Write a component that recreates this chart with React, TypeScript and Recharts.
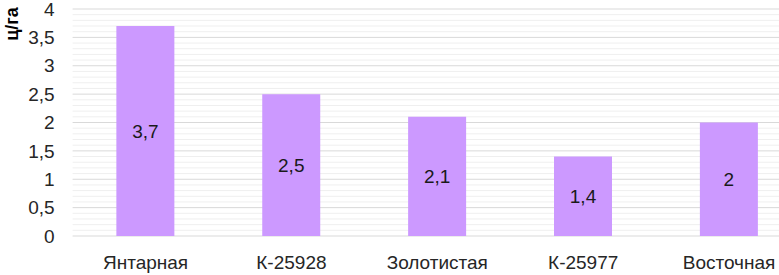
import { BarChart, Bar, XAxis, YAxis, CartesianGrid, LabelList } from "recharts";

const varieties = ["Янтарная", "К-25928", "Золотистая", "К-25977", "Восточная"];
const yieldValues = [3.7, 2.5, 2.1, 1.4, 2];
const yTicks = [0, 0.5, 1, 1.5, 2, 2.5, 3, 3.5, 4];

const data = varieties.map((name, i) => ({ name, value: yieldValues[i] }));
// minor gridlines every 0.1
const minorGrid = Array.from({ length: 41 }, (_, i) => i / 10).filter((v) => !yTicks.includes(v));

const FONT = "'Liberation Sans', Arial, sans-serif";
const fmt = (v: number) => String(v).replace(".", ",");

function AxisTitle() {
  return (
    <text
      x={12}
      y={24}
      transform="rotate(-90, 12, 24)"
      textAnchor="middle"
      dominantBaseline="central"
      fontFamily={FONT}
      fontSize={18}
      fontWeight="bold"
      fill="#000"
    >
      ц/га
    </text>
  );
}

const minorCoords = (props: any) => {
  const scale = props?.yAxis?.scale;
  if (typeof scale === "function") return minorGrid.map((v) => scale(v));
  if (scale && typeof scale.map === "function") return minorGrid.map((v) => scale.map(v));
  const top = props.offset?.top ?? 8;
  const h = props.offset?.height ?? 228;
  return minorGrid.map((v) => top + ((4 - v) / 4) * h);
};

export default function App() {
  return (
    <div style={{ position: "absolute", left: 0, top: 0, width: 779, height: 275, overflow: "hidden", background: "#fff" }}>
      <BarChart
        width={810}
        height={275}
        data={data}
        margin={{ top: 9, right: 8, left: 0, bottom: 0 }}
        barCategoryGap="30%"
        style={{ fontFamily: FONT }}
      >
        <CartesianGrid vertical={false} horizontalCoordinatesGenerator={minorCoords} stroke="#efefef" strokeWidth={1} />
        <CartesianGrid vertical={false} stroke="#d9d9d9" strokeWidth={1} />
        <XAxis
          dataKey="name"
          axisLine={false}
          tickLine={false}
          tickSize={6}
          tickMargin={14}
          height={39}
          interval={0}
          tick={{ fontSize: 19, fill: "#262626", fontFamily: FONT }}
        />
        <YAxis
          domain={[0, 4]}
          ticks={yTicks}
          interval={0}
          width={72.6}
          axisLine={false}
          tickLine={false}
          tickMargin={12}
          tickFormatter={fmt}
          tick={{ fontSize: 19, fill: "#262626", fontFamily: FONT }}
          label={{ content: () => <AxisTitle /> }}
        />
        <Bar dataKey="value" fill="#cc99ff" isAnimationActive={false}>
          <LabelList
            dataKey="value"
            position="center"
            formatter={(v: any) => fmt(Number(v))}
            style={{ fontSize: 19, fill: "#1a1a1a", fontFamily: FONT }}
          />
        </Bar>
      </BarChart>
    </div>
  );
}
